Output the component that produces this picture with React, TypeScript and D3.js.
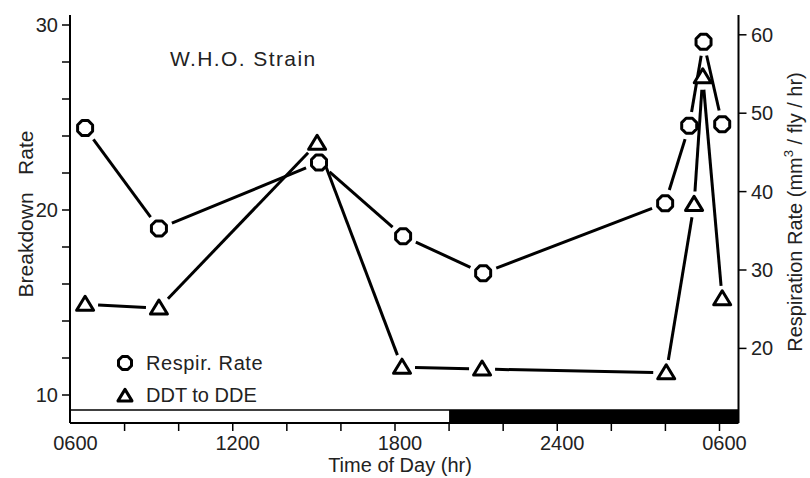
import React from "react";
import * as d3 from "d3";

const respHours = [6.54, 9.27, 15.19, 18.3, 21.26, 27.99, 28.88, 29.41, 30.1];
const respRate = [48.1, 35.3, 43.7, 34.3, 29.6, 38.5, 48.4, 59.1, 48.6];
const ddtHours = [6.54, 9.27, 15.12, 18.26, 21.22, 28.03, 29.06, 29.38, 30.1];
const ddtRate = [14.9, 14.7, 23.6, 11.5, 11.4, 11.2, 20.3, 27.2, 15.2];

const xTickHours = [8, 10, 12, 14, 16, 18, 20, 22, 24, 26, 28, 30];
const xLabelHours = [6, 12, 18, 24, 30];
const xLabelText = ["0600", "1200", "1800", "2400", "0600"];
const leftTicks = [10, 12, 14, 16, 18, 20, 22, 24, 26, 28, 30];
const leftLabels = [10, 20, 30];
const rightTicks = [20, 30, 40, 50, 60];
const darkStartHour = 20;

const W = 810;
const H = 478;
const FONT = "'Liberation Sans', Arial, Helvetica, sans-serif";

const x = d3.scaleLinear().domain([6, 30]).range([70.5, 719.5]);
const yL = d3.scaleLinear().domain([10, 30]).range([395, 25]);
const yR = d3.scaleLinear().domain([20, 60]).range([348.4, 34.8]);

const plotLeft = 70;
const plotRight = 738.5;
const plotTop = 15;
const bandTop = 410;
const plotBottom = 423;

function octagon(cx: number, cy: number, r: number) {
  const a = r * 0.42;
  const pts = [
    [cx - a, cy - r], [cx + a, cy - r], [cx + r, cy - a], [cx + r, cy + a],
    [cx + a, cy + r], [cx - a, cy + r], [cx - r, cy + a], [cx - r, cy - a],
  ];
  return "M" + pts.map((p) => p.join(",")).join("L") + "Z";
}

function triangle(cx: number, cy: number, s: number) {
  return `M${cx},${cy - s * 0.95}L${cx + s},${cy + s * 0.7}L${cx - s},${cy + s * 0.7}Z`;
}

function segments(pts: [number, number][], gap: number) {
  const out: string[] = [];
  for (let i = 0; i < pts.length - 1; i++) {
    const [x1, y1] = pts[i];
    const [x2, y2] = pts[i + 1];
    const dx = x2 - x1, dy = y2 - y1;
    const len = Math.hypot(dx, dy);
    if (len <= gap * 2) continue;
    const ux = dx / len, uy = dy / len;
    out.push(`M${x1 + ux * gap},${y1 + uy * gap}L${x2 - ux * gap},${y2 - uy * gap}`);
  }
  return out;
}

export default function App() {
  const respPts: [number, number][] = respHours.map((h, i) => [x(h), yR(respRate[i])]);
  const ddtPts: [number, number][] = ddtHours.map((h, i) => [x(h), yL(ddtRate[i])]);
  const xDark = x(darkStartHour);

  return (
    <svg width={W} height={H} style={{ position: "absolute", left: 0, top: 0, background: "#fff" }}
      fontFamily={FONT}>
      {/* band */}
      <rect x={plotLeft} y={bandTop} width={xDark - plotLeft} height={plotBottom - bandTop} fill="#fff" />
      <rect x={xDark} y={bandTop} width={plotRight - xDark} height={plotBottom - bandTop} fill="#000" />
      <line x1={plotLeft} x2={plotRight} y1={bandTop} y2={bandTop} stroke="#000" strokeWidth={1.5} />
      <line x1={plotLeft} x2={plotRight} y1={plotBottom} y2={plotBottom} stroke="#000" strokeWidth={2} />
      {/* axes */}
      <line x1={plotLeft} x2={plotLeft} y1={plotTop} y2={plotBottom} stroke="#000" strokeWidth={2} />
      <line x1={plotRight} x2={plotRight} y1={plotTop} y2={plotBottom} stroke="#000" strokeWidth={2} />

      {leftTicks.map((t) => (
        <line key={"lt" + t} x1={plotLeft - 8} x2={plotLeft} y1={yL(t)} y2={yL(t)} stroke="#000" strokeWidth={1.5} />
      ))}
      {leftLabels.map((t) => (
        <text key={"ll" + t} x={58} y={yL(t)} dy="0.35em" textAnchor="end" fontSize={20} fill="#222">{t}</text>
      ))}
      {rightTicks.map((t) => (
        <g key={"rt" + t}>
          <line x1={plotRight} x2={plotRight + 8} y1={yR(t)} y2={yR(t)} stroke="#000" strokeWidth={1.5} />
          <text x={751} y={yR(t)} dy="0.35em" textAnchor="start" fontSize={20} fill="#222">{t}</text>
        </g>
      ))}
      {xTickHours.map((h) => (
        <line key={"xt" + h} x1={x(h)} x2={x(h)} y1={plotBottom} y2={plotBottom + 8} stroke="#000" strokeWidth={1.5} />
      ))}
      {xLabelHours.map((h, i) => (
        <text key={"xl" + i} x={x(h) + 5} y={450} textAnchor="middle" fontSize={20} fill="#222">{xLabelText[i]}</text>
      ))}

      <text x={400} y={472} textAnchor="middle" fontSize={20} fill="#222">Time of Day (hr)</text>
      <text transform="translate(33,214) rotate(-90)" textAnchor="middle" fontSize={21} fill="#222"
        style={{ whiteSpace: "pre" }}>{"Breakdown   Rate"}</text>
      <text transform="translate(802,212) rotate(-90)" textAnchor="middle" fontSize={20} fill="#222">
        Respiration Rate (mm
        <tspan fontSize={13} dy={-9}>3</tspan>
        <tspan dy={9}> / fly / hr)</tspan>
      </text>

      <text x={170} y={66} fontSize={21} letterSpacing={1.4} fill="#222">W.H.O. Strain</text>

      {/* lines */}
      {segments(respPts, 14).map((d, i) => (
        <path key={"rs" + i} d={d} stroke="#000" strokeWidth={3} fill="none" />
      ))}
      {segments(ddtPts, 13).map((d, i) => (
        <path key={"ds" + i} d={d} stroke="#000" strokeWidth={3} fill="none" />
      ))}

      {/* markers */}
      {respPts.map(([px, py], i) => (
        <path key={"rm" + i} d={octagon(px, py, 7.5)} fill="#fff" stroke="#000" strokeWidth={3} strokeLinejoin="round" />
      ))}
      {ddtPts.map(([px, py], i) => (
        <path key={"dm" + i} d={triangle(px, py, 8.5)} fill="#fff" stroke="#000" strokeWidth={3} strokeLinejoin="round" />
      ))}

      {/* legend */}
      <path d={octagon(125, 363, 6.5)} fill="#fff" stroke="#000" strokeWidth={3} strokeLinejoin="round" />
      <text x={146} y={363} dy="0.35em" fontSize={20} letterSpacing={0.6} fill="#222">Respir. Rate</text>
      <path d={triangle(125, 396, 7)} fill="#fff" stroke="#000" strokeWidth={3} strokeLinejoin="round" />
      <text x={146} y={395} dy="0.35em" fontSize={20} fill="#222">DDT to DDE</text>
    </svg>
  );
}
